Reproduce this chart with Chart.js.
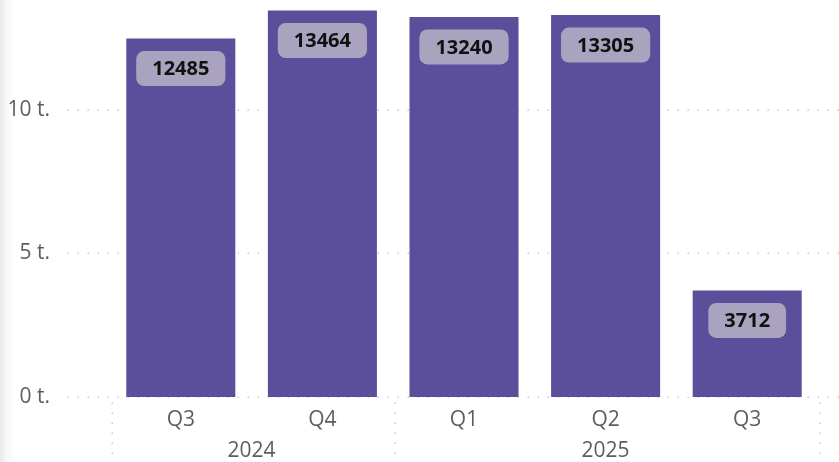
<!DOCTYPE html>
<html>
<head>
<meta charset="utf-8">
<script src="https://cdn.jsdelivr.net/npm/chart.js@4.4.1/dist/chart.umd.min.js"></script>
<style>
  html, body { margin: 0; padding: 0; }
  body { width: 839px; height: 462px; overflow: hidden;
         background: linear-gradient(to right, #e9e9e9 0px, #f6f6f6 6px, #ffffff 14px); }
</style>
</head>
<body>
<canvas id="c" width="839" height="462"></canvas>
<script>
const quarters = ["Q3", "Q4", "Q1", "Q2", "Q3"];
const years = ["2024", "2024", "2025", "2025", "2025"];
const values = [12485, 13464, 13240, 13305, 3712];
const yTicks = [0, 5000, 10000];

const BAR = "#5B4F9C";
const LABEL_BG = "#A9A3BF";
const TXT = "#605E5C";
const GRID = "#C8C8C8";
const FONT = "'Open Sans', 'Noto Sans', sans-serif";

function dotted(ctx, x1, y1, x2, y2, gap) {
  ctx.save();
  ctx.fillStyle = GRID;
  const len = Math.hypot(x2 - x1, y2 - y1);
  const n = Math.floor(len / gap);
  for (let i = 0; i <= n; i++) {
    const t = (i * gap) / len;
    const x = x1 + (x2 - x1) * t, y = y1 + (y2 - y1) * t;
    ctx.fillRect(Math.round(x) - 0.5, Math.round(y) - 0.5, 1.5, 1.5);
  }
  ctx.restore();
}

const decor = {
  id: "decor",
  beforeDatasetsDraw(chart) {
    const ctx = chart.ctx, y = chart.scales.y, x = chart.scales.x;
    const area = chart.chartArea;
    // horizontal dotted gridlines + y tick labels
    ctx.save();
    ctx.font = "400 21px " + FONT;
    ctx.fillStyle = TXT;
    ctx.textAlign = "right";
    ctx.textBaseline = "middle";
    yTicks.forEach(v => {
      const py = y.getPixelForValue(v);
      dotted(ctx, 68, py, 839, py, 10);
      ctx.fillText((v / 1000) + " t.", 50, py);
    });
    ctx.restore();
    // vertical group separators in the axis area
    const step = (area.right - area.left) / quarters.length;
    const bounds = [0];
    for (let i = 1; i < years.length; i++) if (years[i] !== years[i - 1]) bounds.push(i);
    bounds.push(years.length);
    bounds.forEach(b => {
      const px = area.left + b * step + 1.5;
      dotted(ctx, px, area.bottom + 6, px, 470, 10);
    });
  },
  afterDatasetsDraw(chart) {
    const ctx = chart.ctx, x = chart.scales.x;
    const area = chart.chartArea;
    const meta = chart.getDatasetMeta(0);
    ctx.save();
    // data labels
    ctx.font = "700 20px " + FONT;
    ctx.textAlign = "center";
    ctx.textBaseline = "middle";
    meta.data.forEach((bar, i) => {
      const txt = String(values[i]);
      const w = ctx.measureText(txt).width + 32;
      const h = 35;
      const cx = bar.x, cy = bar.y + 30;
      ctx.fillStyle = LABEL_BG;
      ctx.beginPath();
      ctx.roundRect(cx - w / 2, cy - h / 2, w, h, 8);
      ctx.fill();
      ctx.fillStyle = "#111111";
      ctx.fillText(txt, cx, cy + 1);
    });
    // quarter tick labels
    ctx.font = "400 21px " + FONT;
    ctx.fillStyle = TXT;
    quarters.forEach((q, i) => {
      ctx.fillText(q, x.getPixelForTick(i), 420);
    });
    // year group labels
    const step = (area.right - area.left) / quarters.length;
    let start = 0;
    for (let i = 1; i <= years.length; i++) {
      if (i === years.length || years[i] !== years[start]) {
        const cx = area.left + ((start + i) / 2) * step;
        ctx.fillText(years[start], cx, 451);
        start = i;
      }
    }
    ctx.restore();
  }
};

new Chart(document.getElementById("c"), {
  type: "bar",
  data: {
    labels: quarters,
    datasets: [{
      data: values,
      backgroundColor: BAR,
      borderWidth: 0,
      barPercentage: 0.77,
      categoryPercentage: 1.0
    }]
  },
  options: {
    responsive: false,
    animation: false,
    devicePixelRatio: 1,
    layout: { padding: { top: 0, right: 21, bottom: 65, left: 110 } },
    plugins: { legend: { display: false }, tooltip: { enabled: false } },
    scales: {
      x: {
        grid: { display: false, drawTicks: false },
        border: { display: false },
        ticks: { display: false }
      },
      y: {
        min: 0, max: 13830,
        grid: { display: false, drawTicks: false },
        border: { display: false },
        ticks: { display: false }
      }
    }
  },
  plugins: [decor]
});
</script>
</body>
</html>
